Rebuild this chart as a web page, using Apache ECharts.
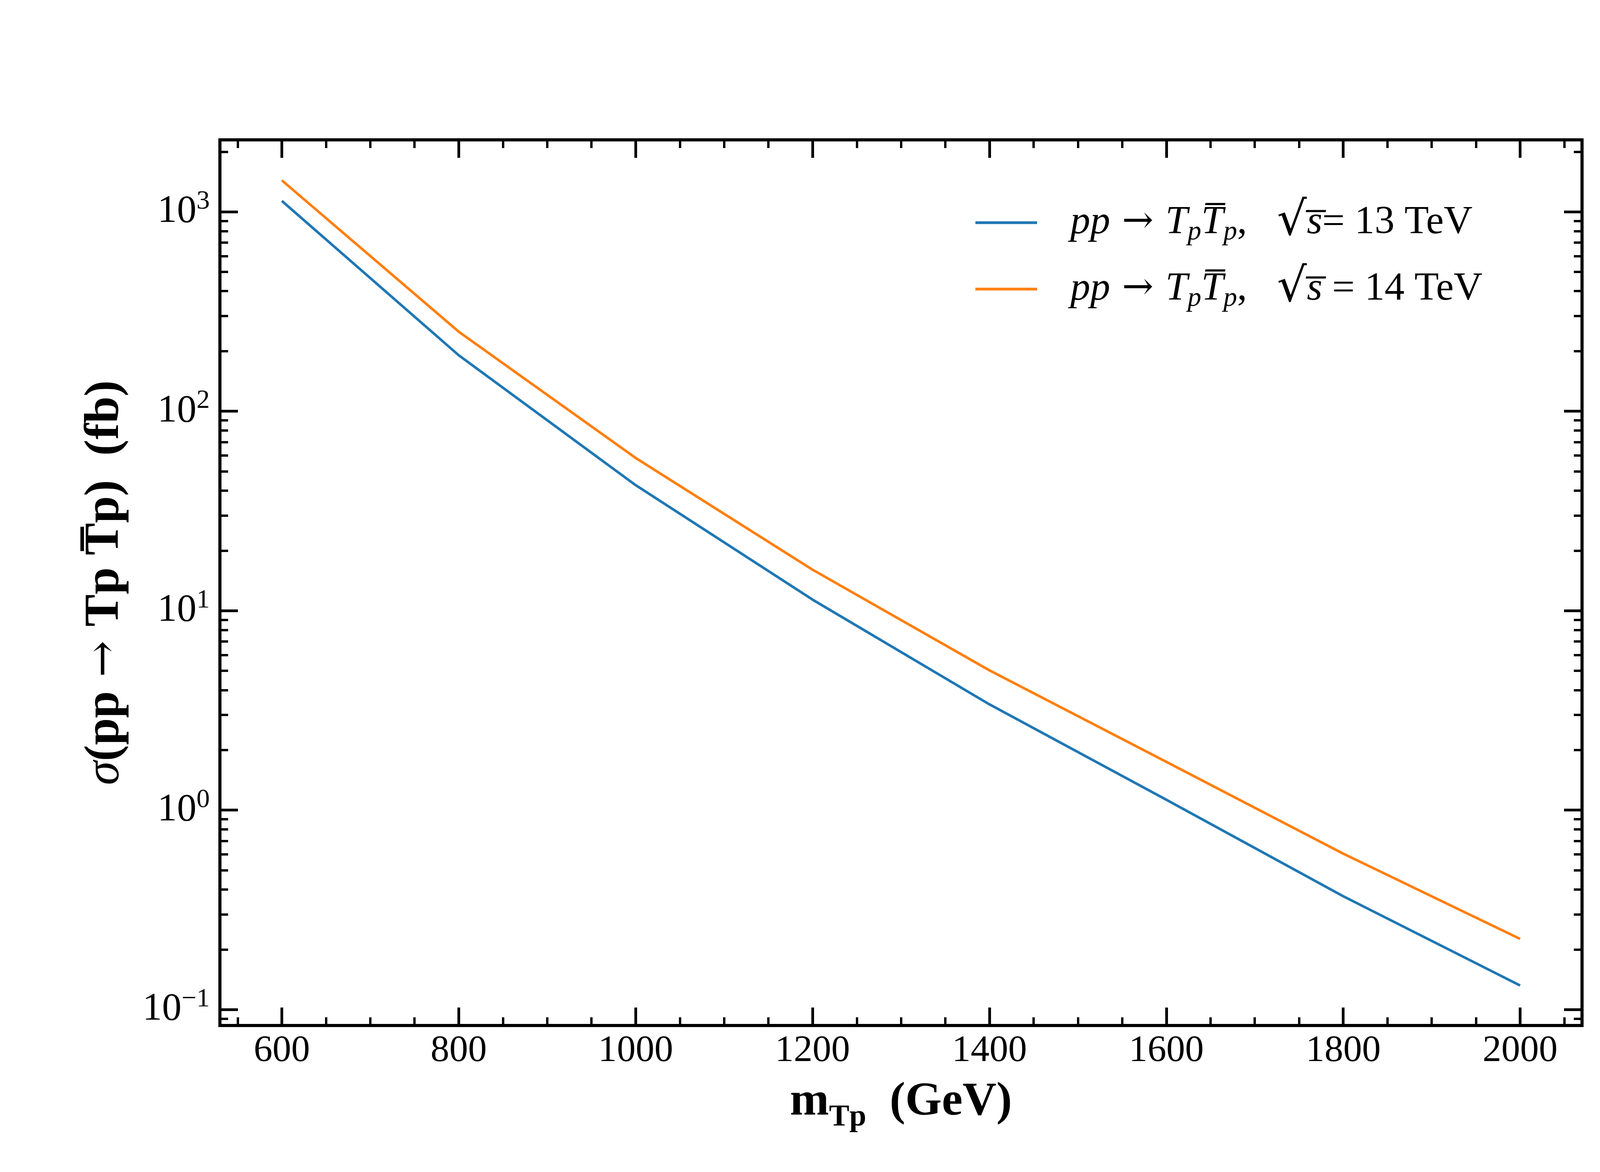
<!DOCTYPE html>
<html lang="en">
<head>
    <meta charset="UTF-8">
    <title>σ(pp → Tp T̅p)</title>
    <style>
        html, body {
            margin: 0;
            padding: 0;
            background: #fff;
        }

        #main {
            width: 4500px;
            height: 3000px;
        }
    </style>
</head>
<body>
<div id="main"></div>
<script src="https://cdn.jsdelivr.net/npm/echarts@6.0.0/dist/echarts.min.js"></script>
<script>
    // masses (GeV) and cross sections (fb)
    const masses = [600, 800, 1000, 1200, 1400, 1600, 1800, 2000];
    const xsec13 = [1133, 190.7, 42.6, 11.36, 3.39, 1.127, 0.370, 0.132];
    const xsec14 = [1437, 250.4, 58.3, 16.05, 5.02, 1.746, 0.605, 0.226];

    const xTicks = [600, 800, 1000, 1200, 1400, 1600, 1800, 2000];
    const yTicks = [0.1, 1, 10, 100, 1000];
    const yExponents = ['−1', '0', '1', '2', '3'];

    const seriesNames = ['13 TeV', '14 TeV'];
    const legendLabels = [
        '{ip|pp}{a| → }{i|T}{s|p}{i|T̅}{s|p}{r|,   }{rt|√}{i|s̅}{r|= 13 TeV}',
        '{ip|pp}{a| → }{i|T}{s|p}{i|T̅}{s|p}{r|,   }{rt|√}{i|s̅}{r| = 14 TeV}'
    ];

    const X_MIN = 530, X_MAX = 2070;
    const Y_MIN = 0.0832, Y_MAX = 2293;

    const FONT = 'Liberation Serif';
    const SYM = 'DejaVu Serif';

    // minor tick positions
    let xMinor = [];
    for (let v = 550; v <= 2050; v += 50) {
        if (v % 200 !== 0) xMinor.push(v);
    }
    let yMinor = [];
    for (let e = -2; e <= 3; e++) {
        for (let k = 2; k <= 9; k++) {
            let v = k * Math.pow(10, e);
            if (v > Y_MIN && v < Y_MAX) yMinor.push(v);
        }
    }

    function tickAxis(type, pos, values, len, width, extra) {
        let ax = {
            type: type,
            position: pos,
            min: type === 'log' ? Y_MIN : X_MIN,
            max: type === 'log' ? Y_MAX : X_MAX,
            axisLine: {show: false},
            splitLine: {show: false},
            axisTick: {
                show: true,
                inside: true,
                length: len,
                customValues: values,
                lineStyle: {color: '#000', width: width}
            },
            axisLabel: {show: false}
        };
        if (type === 'log') ax.logBase = 10;
        return Object.assign(ax, extra || {});
    }

    const xAxes = [
        tickAxis('value', 'bottom', xTicks, 46, 7, {
            axisLabel: {
                show: true,
                customValues: xTicks,
                margin: 18,
                color: '#000',
                fontFamily: FONT,
                fontSize: 96,
                formatter: function (v) {
                    return String(v);
                }
            },
            name: '{b|m}{sub|Tp}{b|  (GeV)}',
            nameLocation: 'middle',
            nameGap: 106,
            nameTextStyle: {
                rich: {
                    b: {fontFamily: FONT, fontWeight: 'bold', fontSize: 120, lineHeight: 120, color: '#000'},
                    sub: {fontFamily: FONT, fontWeight: 'bold', fontSize: 78, lineHeight: 78, padding: [78, 0, 0, 0], color: '#000'}
                }
            }
        }),
        tickAxis('value', 'bottom', xMinor, 21, 6),
        tickAxis('value', 'top', xTicks, 46, 7),
        tickAxis('value', 'top', xMinor, 21, 6)
    ];

    const yAxes = [
        tickAxis('log', 'left', yTicks, 46, 7, {
            axisLabel: {
                show: true,
                customValues: yTicks,
                margin: 26,
                formatter: function (v) {
                    let i = Math.round(Math.log10(v)) + 1;
                    return '{b|10}{sup|' + yExponents[i] + '}';
                },
                rich: {
                    b: {fontFamily: FONT, fontSize: 100, lineHeight: 100, color: '#000'},
                    sup: {fontFamily: FONT, fontSize: 68, lineHeight: 68, padding: [0, 0, 52, 0], color: '#000'}
                }
            },
            name: '{it|σ}{b|(pp}{a| → }{b|Tp T̅p)  (fb)}',
            nameLocation: 'middle',
            nameRotate: 90,
            nameGap: 225,
            nameTextStyle: {
                rich: {
                    it: {fontFamily: FONT, fontStyle: 'italic', fontSize: 124, lineHeight: 136, color: '#000'},
                    b: {fontFamily: FONT, fontWeight: 'bold', fontSize: 124, lineHeight: 136, color: '#000'},
                    a: {fontFamily: SYM, fontSize: 112, lineHeight: 136, color: '#000'}
                }
            }
        }),
        tickAxis('log', 'left', yMinor, 21, 6),
        tickAxis('log', 'right', yTicks, 46, 7),
        tickAxis('log', 'right', yMinor, 21, 6)
    ];

    function pairs(ys) {
        return masses.map(function (m, i) {
            return [m, ys[i]];
        });
    }

    let myChart = echarts.init(document.getElementById('main'));
    let option = {
        backgroundColor: '#fff',
        animation: false,
        grid: {
            left: 563,
            right: 450,
            top: 358,
            bottom: 375,
            show: true,
            borderColor: '#000',
            borderWidth: 8,
            backgroundColor: 'transparent'
        },
        legend: {
            orient: 'vertical',
            align: 'left',
            left: 2497,
            top: 510,
            padding: 0,
            itemGap: 50,
            itemWidth: 158,
            itemHeight: 7,
            icon: 'rect',
            data: seriesNames,
            formatter: function (name) {
                return legendLabels[seriesNames.indexOf(name)];
            },
            textStyle: {
                color: '#000',
                rich: {
                    ip: {fontFamily: FONT, fontStyle: 'italic', fontSize: 102, lineHeight: 100, padding: [0, 0, 0, 80], color: '#000'},
                    i: {fontFamily: FONT, fontStyle: 'italic', fontSize: 102, lineHeight: 100, color: '#000'},
                    r: {fontFamily: FONT, fontSize: 102, lineHeight: 100, color: '#000'},
                    a: {fontFamily: SYM, fontSize: 96, lineHeight: 100, color: '#000'},
                    rt: {fontFamily: SYM, fontSize: 120, lineHeight: 100, color: '#000'},
                    s: {fontFamily: FONT, fontStyle: 'italic', fontSize: 70, lineHeight: 70, padding: [50, 0, 0, 0], color: '#000'}
                }
            }
        },
        xAxis: xAxes,
        yAxis: yAxes,
        series: [
            {
                name: seriesNames[0],
                type: 'line',
                data: pairs(xsec13),
                symbol: 'none',
                lineStyle: {color: '#1f77b4', width: 6.5},
                itemStyle: {color: '#1f77b4'}
            },
            {
                name: seriesNames[1],
                type: 'line',
                data: pairs(xsec14),
                symbol: 'none',
                lineStyle: {color: '#ff7f0e', width: 6.5},
                itemStyle: {color: '#ff7f0e'}
            }
        ]
    };

    myChart.setOption(option);
</script>
</body>
</html>
